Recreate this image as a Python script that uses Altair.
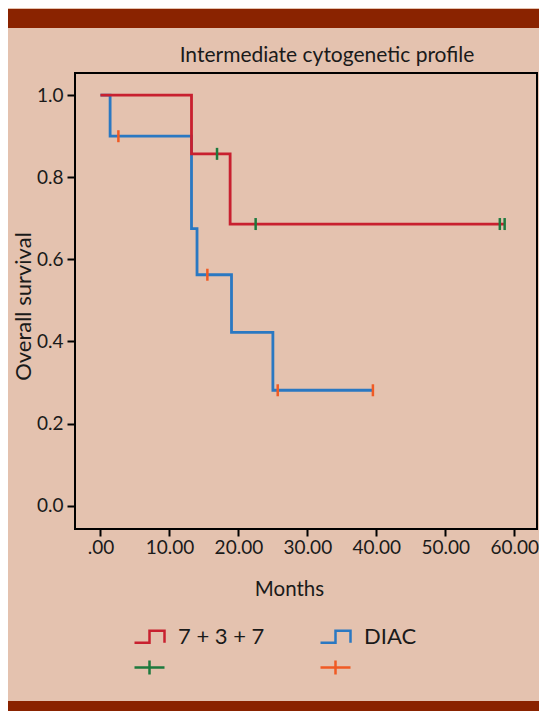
import altair as alt
import pandas as pd

# ---- data ----
red_time = [0.0, 13.2, 18.8, 58.6]
red_surv = [1.0, 0.857, 0.686, 0.686]
blue_time = [0.0, 1.4, 13.2, 14.0, 19.0, 25.0, 39.5]
blue_surv = [1.0, 0.9, 0.675, 0.5625, 0.422, 0.281, 0.281]
red_cens_time = [16.9, 22.5, 57.9, 58.6]
red_cens_surv = [0.857, 0.686, 0.686, 0.686]
blue_cens_time = [2.6, 15.5, 25.7, 39.5]
blue_cens_surv = [0.9, 0.5625, 0.281, 0.281]

x_ticks = [0, 10, 20, 30, 40, 50, 60]
y_ticks = [0.0, 0.2, 0.4, 0.6, 0.8, 1.0]
# legend is filled column by column: (7+3+7, its censor mark), (DIAC, its censor mark)
legend_keys = ["7 + 3 + 7", "censored 7 + 3 + 7", "DIAC", "censored DIAC"]
title_text = ["Intermediate cytogenetic profile"]

RED = "#c8202f"
BLUE = "#2a78c2"
GREEN = "#1d7a3e"
ORANGE = "#f05a24"
BG = "#e4c2af"
BAR = "#8a2300"
FONT = "Lato"
TXT = "#1a1a1a"

STEP = "M-1,0.4H0V-0.4H1V0.4"
CROSS = "M-1,0H1M0,-0.47V0.47"
TICK = "M0,-1V1"

red_df = pd.DataFrame({"t": red_time, "s": red_surv})
blue_df = pd.DataFrame({"t": blue_time, "s": blue_surv})
red_c = pd.DataFrame({"t": red_cens_time, "s": red_cens_surv})
blue_c = pd.DataFrame({"t": blue_cens_time, "s": blue_cens_surv})
leg_df = pd.DataFrame({"key": legend_keys})
title_df = pd.DataFrame({"txt": title_text})

W, H = 462, 456
xscale = alt.Scale(domain=[-3.69, 63.29], nice=False, zero=False)
yscale = alt.Scale(domain=[-0.057, 1.054], nice=False, zero=False)

xaxis = alt.Axis(values=x_ticks, labelExpr="datum.value == 0 ? '.00' : format(datum.value, '.2f')",
                 title="Months", grid=False, domain=False, tickSize=7, tickWidth=2,
                 tickColor="black", labelFont=FONT, labelFontSize=19, labelPadding=2,
                 labelColor=TXT, titleFont=FONT, titleFontSize=20.5, titleFontWeight="normal",
                 titleColor=TXT, titleX=214, titleY=66, titleAlign="center",
                 titleBaseline="alphabetic", labelOverlap=False)
yaxis = alt.Axis(values=y_ticks, format=".1f", title="Overall survival", grid=False,
                 domain=False, tickSize=8, tickWidth=2, tickColor="black", labelFont=FONT,
                 labelFontSize=19, labelPadding=4, labelColor=TXT, titleFont=FONT,
                 titleFontSize=22, titleFontWeight="normal", titleColor=TXT, titleX=-45,
                 titleY=233, titleAngle=270, titleAlign="center", titleBaseline="alphabetic",
                 labelOverlap=False)

X = alt.X("t:Q", scale=xscale, axis=xaxis)
Y = alt.Y("s:Q", scale=yscale, axis=yaxis)

blue_line = alt.Chart(blue_df).mark_line(interpolate="step-after", strokeWidth=2.8,
                                          color=BLUE).encode(x=X, y=Y)
red_line = alt.Chart(red_df).mark_line(interpolate="step-after", strokeWidth=2.8,
                                        color=RED).encode(x=X, y=Y)
red_ticks = alt.Chart(red_c).mark_point(shape=TICK, size=144, filled=False, strokeWidth=2.5,
                                         color=GREEN, opacity=1).encode(x=X, y=Y)
blue_ticks = alt.Chart(blue_c).mark_point(shape=TICK, size=144, filled=False, strokeWidth=2.5,
                                           color=ORANGE, opacity=1).encode(x=X, y=Y)

leg = alt.Legend(title=None, orient="none", legendX=58, legendY=547, columns=2,
                 columnPadding=50, rowPadding=3, symbolSize=900, symbolStrokeWidth=2.5,
                 labelFont=FONT, labelFontSize=22, labelColor=TXT, labelOffset=12,
                 symbolOpacity=1, padding=0,
                 labelExpr="indexof(datum.label, 'censored') == 0 ? '' : datum.label")
legend_layer = alt.Chart(leg_df).mark_point(filled=False, opacity=0, size=900).encode(
    x=alt.value(0), y=alt.value(0),
    shape=alt.Shape("key:N", scale=alt.Scale(domain=legend_keys, range=[STEP, CROSS, STEP, CROSS]), legend=leg),
    stroke=alt.Stroke("key:N", scale=alt.Scale(domain=legend_keys, range=[RED, GREEN, BLUE, ORANGE]), legend=leg),
)

title_layer = alt.Chart(title_df).mark_text(font=FONT, fontSize=21, color=TXT, align="center",
                                            baseline="alphabetic").encode(
    text="txt:N", x=alt.value(252), y=alt.value(-11))

bar_df = pd.DataFrame({"k": [0]})
top_bar = alt.Chart(bar_df).mark_rect(color=BAR).encode(
    x=alt.value(-67), x2=alt.value(464), y=alt.value(-64), y2=alt.value(-45))
bottom_bar = alt.Chart(bar_df).mark_rect(color=BAR).encode(
    x=alt.value(-67), x2=alt.value(464), y=alt.value(628), y2=alt.value(638))

chart = alt.layer(top_bar, bottom_bar, title_layer, blue_line, red_line, red_ticks, blue_ticks,
                  legend_layer).properties(
    width=W, height=H,
    autosize=alt.AutoSizeParams(type="none"),
    padding={"left": 67, "top": 65, "right": 2, "bottom": 182},
    background=BG,
).configure_view(stroke="black", strokeWidth=2, fill=None)

chart.save("out.html", embed_options={"renderer": "svg", "actions": False})
